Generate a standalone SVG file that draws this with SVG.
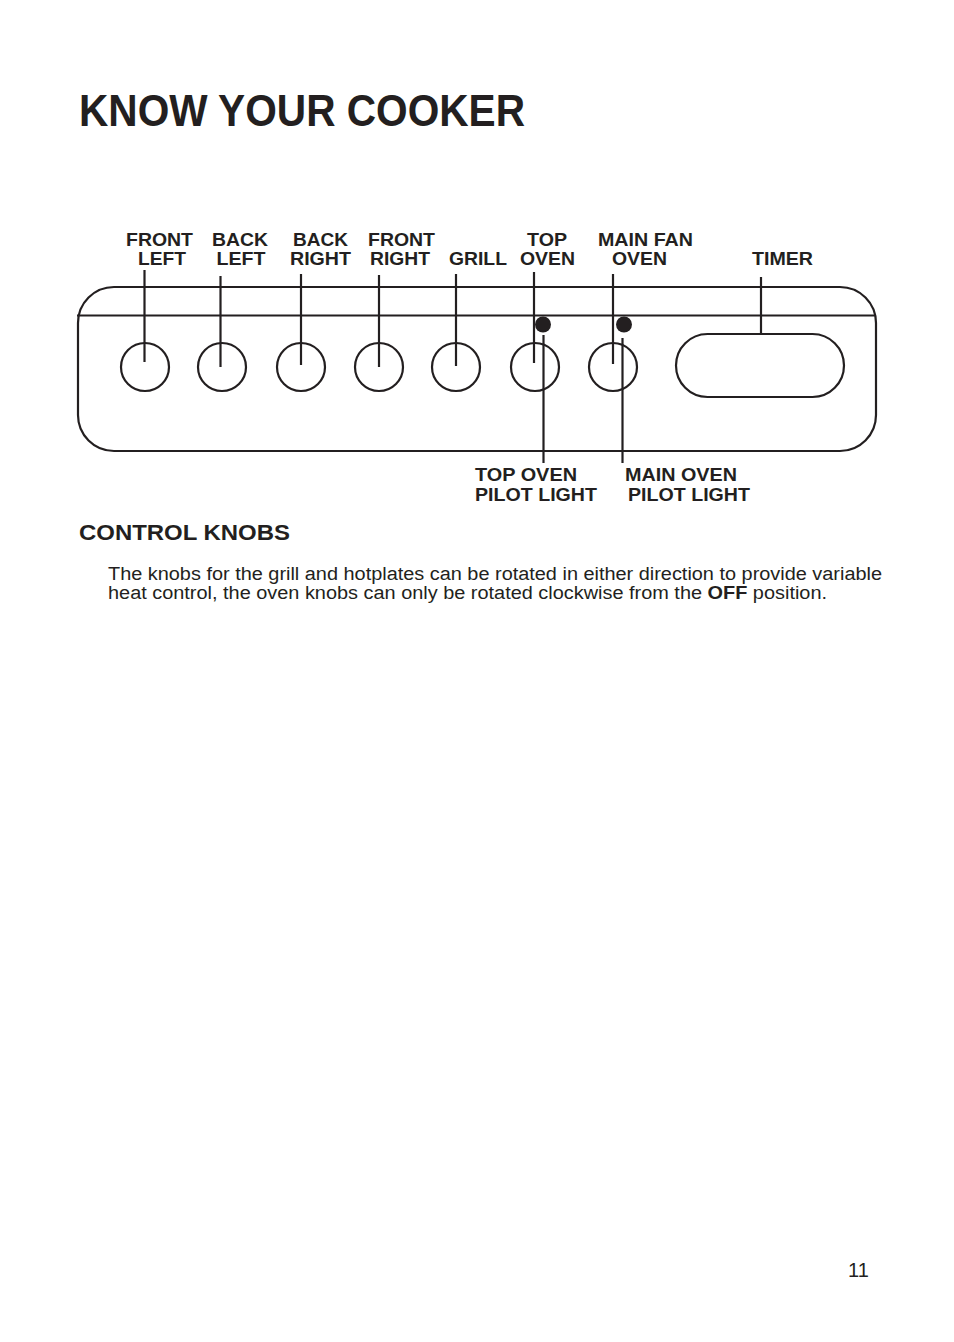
<svg xmlns="http://www.w3.org/2000/svg" width="954" height="1342" viewBox="0 0 954 1342">
<style>
.lbl{font-family:"Liberation Sans",Arial,sans-serif;font-weight:bold;font-size:19px;fill:#231f20;text-anchor:middle}
.blbl{font-family:"Liberation Sans",Arial,sans-serif;font-weight:bold;font-size:18px;fill:#231f20}
.ln{stroke:#231f20;stroke-width:2.2;fill:none}
.knob{stroke:#231f20;stroke-width:2.2;fill:none}
.body{font-family:"Liberation Sans",Arial,sans-serif;font-size:18px;fill:#231f20}
</style>
<rect width="954" height="1342" fill="#ffffff"/>
<text x="79" y="126" font-family="Liberation Sans, Arial, sans-serif" font-weight="bold" font-size="44" fill="#231f20" textLength="446" lengthAdjust="spacingAndGlyphs">KNOW YOUR COOKER</text>

<g id="panel">
<rect x="78" y="287" width="798" height="164" rx="36" ry="36" class="ln"/>
<line x1="77" y1="315.5" x2="876" y2="315.5" class="ln"/>
</g>

<g id="knob-front-left"><circle cx="145" cy="367" r="24" class="knob"/><text class="lbl" x="159.5" y="246" textLength="67" lengthAdjust="spacingAndGlyphs">FRONT</text><text class="lbl" x="162" y="265" textLength="48" lengthAdjust="spacingAndGlyphs">LEFT</text></g>
<g id="knob-back-left"><circle cx="222" cy="367" r="24" class="knob"/><text class="lbl" x="240" y="246" textLength="56" lengthAdjust="spacingAndGlyphs">BACK</text><text class="lbl" x="241" y="265" textLength="49" lengthAdjust="spacingAndGlyphs">LEFT</text></g>
<g id="knob-back-right"><circle cx="301" cy="367" r="24" class="knob"/><text class="lbl" x="320.5" y="246" textLength="55" lengthAdjust="spacingAndGlyphs">BACK</text><text class="lbl" x="320.5" y="265" textLength="61" lengthAdjust="spacingAndGlyphs">RIGHT</text></g>
<g id="knob-front-right"><circle cx="379" cy="367" r="24" class="knob"/><text class="lbl" x="401.5" y="246" textLength="67" lengthAdjust="spacingAndGlyphs">FRONT</text><text class="lbl" x="400" y="265" textLength="60" lengthAdjust="spacingAndGlyphs">RIGHT</text></g>
<g id="knob-grill"><circle cx="456" cy="367" r="24" class="knob"/><text class="lbl" x="478" y="265" textLength="58" lengthAdjust="spacingAndGlyphs">GRILL</text></g>
<g id="knob-top-oven"><circle cx="535" cy="367" r="24" class="knob"/><text class="lbl" x="547" y="246" textLength="40" lengthAdjust="spacingAndGlyphs">TOP</text><text class="lbl" x="547.5" y="265" textLength="55" lengthAdjust="spacingAndGlyphs">OVEN</text></g>
<g id="knob-main-fan-oven"><circle cx="613" cy="367" r="24" class="knob"/><text class="lbl" x="645.5" y="246" textLength="95" lengthAdjust="spacingAndGlyphs">MAIN FAN</text><text class="lbl" x="639.5" y="265" textLength="55" lengthAdjust="spacingAndGlyphs">OVEN</text></g>
<g id="timer"><rect x="676" y="334" width="168" height="63" rx="31.5" ry="31.5" class="knob"/><text class="lbl" x="782.5" y="265" textLength="61" lengthAdjust="spacingAndGlyphs">TIMER</text></g>
<g id="pilot-top-oven"><circle cx="543" cy="324.5" r="8" fill="#231f20"/><text class="blbl" x="475" y="481" textLength="102" lengthAdjust="spacingAndGlyphs">TOP OVEN</text><text class="blbl" x="475" y="501" textLength="122" lengthAdjust="spacingAndGlyphs">PILOT LIGHT</text></g>
<g id="pilot-main-oven"><circle cx="624" cy="324.5" r="8" fill="#231f20"/><text class="blbl" x="625" y="481" textLength="112" lengthAdjust="spacingAndGlyphs">MAIN OVEN</text><text class="blbl" x="628" y="501" textLength="122" lengthAdjust="spacingAndGlyphs">PILOT LIGHT</text></g>

<g id="connectors">
<line x1="144.5" y1="270" x2="144.5" y2="362" class="ln"/>
<line x1="220.5" y1="276" x2="220.5" y2="367" class="ln"/>
<line x1="301" y1="274" x2="301" y2="365" class="ln"/>
<line x1="379" y1="275" x2="379" y2="367" class="ln" stroke-width="3"/>
<line x1="456" y1="274" x2="456" y2="366" class="ln"/>
<line x1="534" y1="272" x2="534" y2="363" class="ln"/>
<line x1="613" y1="274" x2="613" y2="364" class="ln"/>
<line x1="761" y1="277" x2="761" y2="334" class="ln"/>
<line x1="543.5" y1="335" x2="543.5" y2="463" class="ln"/>
<line x1="622.5" y1="338" x2="622.5" y2="463" class="ln"/>
</g>

<text x="79" y="540" font-family="Liberation Sans, Arial, sans-serif" font-weight="bold" font-size="22" fill="#231f20" textLength="211" lengthAdjust="spacingAndGlyphs">CONTROL KNOBS</text>
<text class="body" x="108" y="580" textLength="774" lengthAdjust="spacingAndGlyphs">The knobs for the grill and hotplates can be rotated in either direction to provide variable</text>
<text class="body" x="108" y="599" textLength="719" lengthAdjust="spacingAndGlyphs">heat control, the oven knobs can only be rotated clockwise from the <tspan font-weight="bold">OFF</tspan> position.</text>
<text x="848" y="1277" font-family="Liberation Sans, Arial, sans-serif" font-size="20" fill="#231f20">11</text>
</svg>
